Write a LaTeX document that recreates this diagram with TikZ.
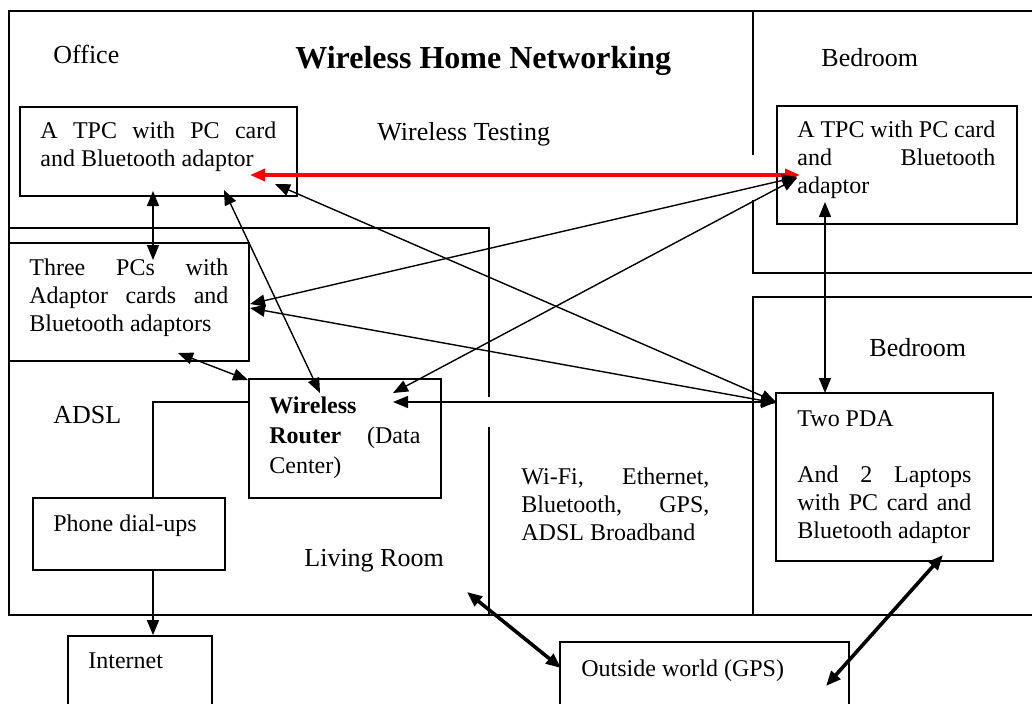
\documentclass[tikz,border=0pt]{standalone}
\usepackage{fontspec}
\setmainfont{Liberation Serif}
\usetikzlibrary{arrows.meta,fit}
\newcommand{\jtext}[2]{\parbox[t]{#1}{\tolerance=10000\hbadness=10000\hyphenpenalty=10000\exhyphenpenalty=10000 #2}}
\begin{document}
\begin{tikzpicture}[x=0.5pt,y=-0.5pt,
  >={Triangle[length=7.5pt,width=6pt]},
  wall/.style={line width=0.9pt},
  box/.style={draw, line width=0.9pt, inner sep=0pt},
  lbl/.style={inner sep=0pt, anchor=base west, font=\fontsize{13}{15}\selectfont},
  txt/.style={inner sep=0pt, anchor=base west, font=\fontsize{12}{14}\selectfont},
  title/.style={inner sep=0pt, anchor=base west, font=\fontsize{16}{18}\selectfont\bfseries},
  link/.style={line width=0.7pt, <->},
  heavy/.style={line width=1.8pt, <->},
  redlink/.style={draw=red, line width=1.7pt, <->, >={Triangle[length=7.5pt,width=6pt,fill=red]}},
  wire/.style={line width=0.9pt}]
\clip (0,0) rectangle (1032,703);
\fill[white] (0,0) rectangle (1032,703);

% walls
\draw[wall] (1040,11) -- (9,11) -- (9,615) -- (1040,615);
\draw[wall] (9,228) -- (489,228) -- (489,397);
\draw[wall] (489,427) -- (489,615);
\draw[wall] (753,11) -- (753,155);
\draw[wall] (753,200) -- (753,273) -- (1040,273);
\draw[wall] (1040,297) -- (753,297) -- (753,615);

% boxes
\node[box, fit={(20,107) (297,196)}] (tpcA) {};
\node[box, fit={(9,243) (249,361)}] (pcs) {};
\node[box, fit={(249,379) (441,498)}] (router) {};
\node[box, fit={(33,498) (225,570)}] (phone) {};
\node[box, fit={(68,636) (212,720)}] (inet) {};
\node[box, fit={(777,106) (1017,224)}] (tpcB) {};
\node[box, fit={(776,393) (993,561)}] (pda) {};
\node[box, fit={(560,642) (849,720)}] (outside) {};

% labels
\node[title] (ttl) at (295,68) {Wireless Home Networking};
\node[lbl] (office) at (53,63) {Office};
\node[lbl] (bed1) at (821,66) {Bedroom};
\node[lbl] (wtest) at (377,140) {Wireless Testing};
\node[lbl] (adsl) at (53,423) {ADSL};
\node[lbl] (living) at (304,566) {Living Room};
\node[lbl] (bed2) at (869,356) {Bedroom};

% box texts
\node[txt] (tpcAt) at (40,138) {\jtext{118pt}{A TPC with PC card\linebreak and Bluetooth adaptor}};
\node[txt] (pcst) at (29,275) {\jtext{99.5pt}{Three PCs with\linebreak Adaptor cards and\linebreak Bluetooth adaptors}};
\node[txt] (tpcBt) at (797,137) {\jtext{99pt}{A TPC with PC card\linebreak and Bluetooth\linebreak adaptor}};
\node[txt, font=\fontsize{12}{15}\selectfont] (routert) at (269,413) {\jtext{75.5pt}{\textbf{Wireless}\\\textbf{Router} (Data\linebreak Center)}};
\node[txt] (phonet) at (53,531) {Phone dial-ups};
\node[txt] (inett) at (88,668) {Internet};
\node[txt] (wifi) at (521,484) {\jtext{94pt}{Wi-Fi, Ethernet,\linebreak Bluetooth, GPS,\linebreak ADSL Broadband}};
\node[txt] (pdat) at (797,426) {\jtext{87pt}{Two PDA\par\vspace{14pt}And 2 Laptops\linebreak with PC card and\linebreak Bluetooth adaptor}};
\node[txt] (outt) at (581,676) {Outside world (GPS)};

% connector end points
\coordinate (rr) at (153,402);
\coordinate (redA) at (250,175);
\coordinate (redB) at (800,175);
\coordinate (bTop) at (153,191);
\coordinate (bBot) at (153,260);
\coordinate (cTop) at (224,190);
\coordinate (cBot) at (320,393);
\coordinate (dA) at (275,184);
\coordinate (dB) at (776,402);
\coordinate (eA) at (250,304);
\coordinate (eB) at (797,177);
\coordinate (fA) at (250,308);
\coordinate (fB) at (776,403);
\coordinate (gA) at (393,393);
\coordinate (gB) at (797,178);
\coordinate (hA) at (393,402);
\coordinate (hB) at (776,402);
\coordinate (iA) at (178,353);
\coordinate (iB) at (248,380);
\coordinate (jTop) at (825,202);
\coordinate (jBot) at (825,393);
\coordinate (kA) at (467,592);
\coordinate (kB) at (561,668);
\coordinate (lA) at (943,555);
\coordinate (lB) at (826,686);

% connectors
\draw[wire] (router.west |- rr) -| (phone.north -| rr);
\draw[line width=0.7pt, ->] (phone.south -| rr) -- (inet.north -| rr);
\draw[redlink] (redA) -- (redB);
\draw[link] (bTop) -- (bBot);
\draw[link] (cTop) -- (cBot);
\draw[link] (dA) -- (dB);
\draw[link] (eA) -- (eB);
\draw[link] (fA) -- (fB);
\draw[link] (gA) -- (gB);
\draw[link] (hA) -- (hB);
\draw[link] (iA) -- (iB);
\draw[link] (jTop) -- (jBot);
\draw[heavy] (kA) -- (kB);
\draw[heavy] (lA) -- (lB);
\end{tikzpicture}
\end{document}
